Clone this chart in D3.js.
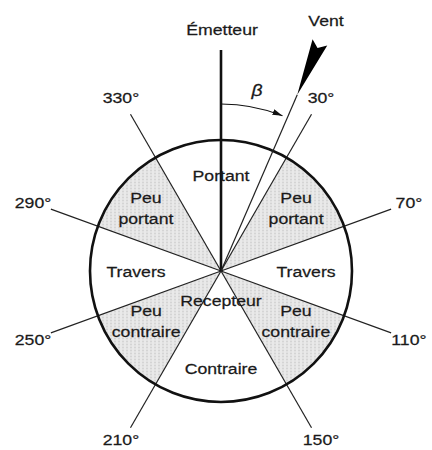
<!DOCTYPE html>
<meta charset='utf-8'>
<title>Émetteur / Récepteur – secteurs de vent</title>
<style>
  body { margin: 0; background: #fff; }
  svg { display: block; }
  text {
    font-family: 'Liberation Sans', Arial, Helvetica, sans-serif;
    font-size: 15.5px;
    fill: #1a1a1a;
    stroke: #1a1a1a;
    stroke-width: 0.25px;
  }
  .ray { stroke: #222; stroke-width: 1.2px; }
  .rim { fill: none; stroke: #111; stroke-width: 2.6px; }
</style>
<body>
<script src='https://cdn.jsdelivr.net/npm/d3@7'></script>
<script>

  // compass angles in degrees, clockwise from the emitter direction
  var boundaries = [30, 70, 110, 150, 210, 250, 290, 330]
  var sectorNames = ['Portant', 'Peu portant', 'Travers', 'Peu contraire',
                     'Contraire', 'Peu contraire', 'Travers', 'Peu portant']
  var sectorStart = [-30, 30, 70, 110, 150, 210, 250, 290]
  var sectorEnd = [30, 70, 110, 150, 210, 250, 290, 330]
  var sectorShaded = [false, true, false, true, false, true, false, true]
  var windAngle = 23.4
  var emitterLabel = 'Émetteur'
  var receiverLabel = 'Recepteur'
  var windLabel = 'Vent'
  var angleLabel = 'β'

  var width = 432,
  height = 450,
  cx = 221, cy = 271,
  radius = 131

  var svg = d3.select('body').append('svg')
    .attr('width', width)
    .attr('height', height)

  var defs = svg.append('defs')
  var pat = defs.append('pattern')
    .attr('id', 'dots')
    .attr('patternUnits', 'userSpaceOnUse')
    .attr('width', 4).attr('height', 3)
  pat.append('rect').attr('width', 4).attr('height', 3).attr('fill', '#e9e9e9')
  pat.append('circle').attr('cx', 2).attr('cy', 1.5).attr('r', 1).attr('fill', '#d2d2d2')

  defs.append('marker')
    .attr('id', 'head')
    .attr('viewBox', '0 0 10 6')
    .attr('refX', 10).attr('refY', 3)
    .attr('markerWidth', 10).attr('markerHeight', 6)
    .attr('markerUnits', 'userSpaceOnUse')
    .attr('orient', 'auto')
    .append('path').attr('d', 'M0,0 L10,3 L0,6 Z').attr('fill', '#111')

  // degrees -> radians (d3.arc convention: 0 = up, clockwise)
  var rad = d3.scaleLinear().domain([0, 360]).range([0, 2 * Math.PI])
  // polar radius scale in pixels
  var rScale = d3.scaleLinear().domain([0, 1]).range([0, radius])

  function polar(deg, r) {
    var a = rad(deg)
    return [cx + r * Math.sin(a), cy - r * Math.cos(a)]
  }

  var g = svg.append('g')

  /* ------- SECTORS -------*/
  var sectors = sectorNames.map(function(name, i) {
    return { name: name, start: sectorStart[i], end: sectorEnd[i], shaded: sectorShaded[i] }
  })

  var arc = d3.arc()
    .innerRadius(0)
    .outerRadius(rScale(1))
    .startAngle(function(d) { return rad(d.start) })
    .endAngle(function(d) { return rad(d.end) })

  g.append('g')
    .attr('transform', 'translate(' + cx + ',' + cy + ')')
    .selectAll('path')
    .data(sectors)
    .enter().append('path')
    .attr('d', arc)
    .attr('fill', function(d) { return d.shaded ? 'url(#dots)' : '#fff' })

  /* ------- RAYS -------*/
  var rayLen = rScale(1.382)
  g.selectAll('line.ray')
    .data(boundaries)
    .enter().append('line')
    .attr('class', 'ray')
    .attr('x1', cx).attr('y1', cy)
    .attr('x2', function(d) { return polar(d, rayLen)[0] })
    .attr('y2', function(d) { return polar(d, rayLen)[1] })

  // circle rim
  g.append('circle')
    .attr('class', 'rim')
    .attr('cx', cx).attr('cy', cy)
    .attr('r', rScale(1))

  // emitter axis
  var emitTop = polar(0, rScale(1.687))
  g.append('line')
    .attr('x1', cx).attr('y1', cy)
    .attr('x2', emitTop[0]).attr('y2', emitTop[1])
    .attr('stroke', '#111').attr('stroke-width', 2.6)

  // wind line + arrow
  var tip = polar(windAngle, rScale(1.466))
  g.append('line')
    .attr('x1', cx).attr('y1', cy)
    .attr('x2', tip[0]).attr('y2', tip[1])
    .attr('stroke', '#222').attr('stroke-width', 1.2)

  g.append('path')
    .attr('d', 'M0,0 L-8,-57 L0,-51 L8,-57 Z')
    .attr('transform', 'translate(' + tip + ') rotate(' + windAngle + ')')
    .attr('fill', '#000')

  // beta arc
  var betaR = rScale(1.275)
  var a0 = polar(0, betaR), a1 = polar(windAngle - 1.8, betaR)
  g.append('path')
    .attr('d', 'M' + a0 + ' A' + betaR + ',' + betaR + ' 0 0,1 ' + a1)
    .attr('fill', 'none')
    .attr('stroke', '#111').attr('stroke-width', 1.2)
    .attr('marker-end', 'url(#head)')

  /* ------- TEXT -------*/
  var sx = 1.14
  function label(x, y, lines, opts) {
    var t = g.append('text')
      .attr('transform', 'translate(' + x + ',' + y + ') scale(' + sx + ',1)')
      .attr('text-anchor', 'middle')
    var n = lines.length
    lines.forEach(function(s, i) {
      t.append('tspan')
        .attr('x', 0)
        .attr('y', (i - (n - 1) / 2) * 21)
        .attr('dy', '0.36em')
        .text(s)
    })
    if (opts && opts.italic) t.style('font-style', 'italic').style('font-size', '17px')
    return t
  }

  // degree labels
  boundaries.forEach(function(d) {
    var p = polar(d, rScale(1.527))
    label(p[0], Math.min(p[1], 439), [d + '°'])
  })

  // sector labels
  var place = {
    'Portant': { r: 96, shift: 0 },
    'Peu portant': { r: 98, shift: 0 },
    'Travers': { r: 85, shift: 0 },
    'Peu contraire': { r: 90, shift: -6.3 },
    'Contraire': { r: 97, shift: 0 }
  }
  sectors.forEach(function(d) {
    var mid = (d.start + d.end) / 2
    var pl = place[d.name]
    var shift = mid > 180 ? -pl.shift : pl.shift
    var p = polar(mid + shift, pl.r)
    label(p[0], p[1], d.name.split(' '))
  })

  label(cx, cy + 29, [receiverLabel])
  label(emitTop[0] + 1, 29, [emitterLabel])
  label(326, 20, [windLabel])
  label(257, 90, [angleLabel], { italic: true })

</script>
</body>
